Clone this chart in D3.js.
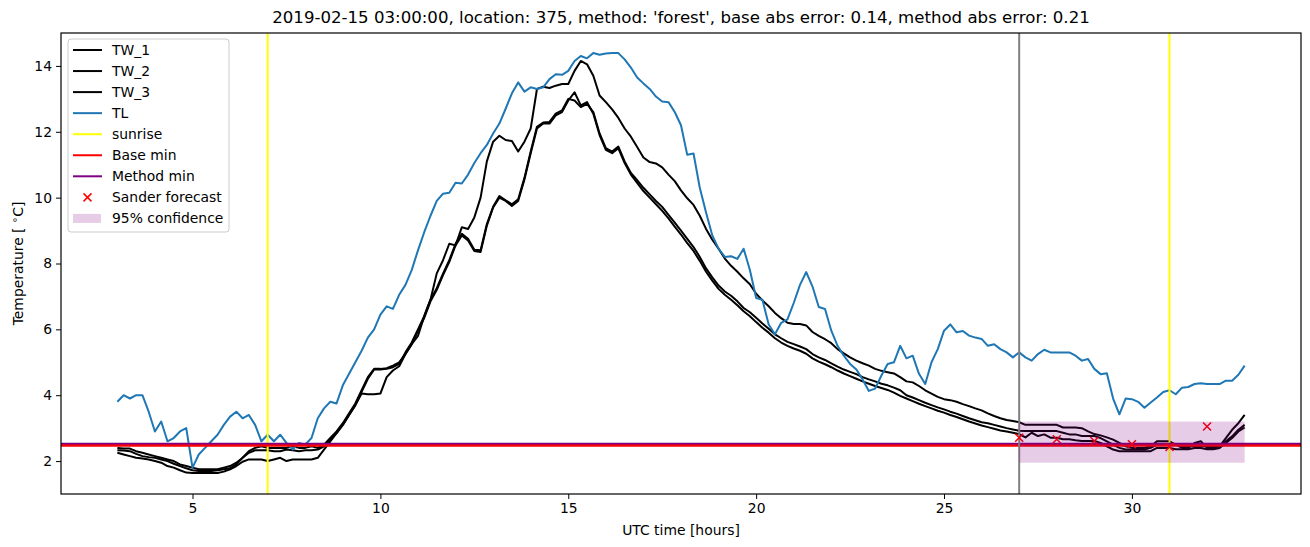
<!DOCTYPE html>
<html>
<head>
<meta charset="utf-8">
<script src="https://cdn.jsdelivr.net/npm/d3@7/dist/d3.min.js"></script>
<style>
  body { margin: 0; background: #fff; }
  svg { font-family: "DejaVu Sans", sans-serif; }
</style>
</head>
<body>
<svg id="chart" width="1310" height="547"></svg>
<script>
// ---- data (10 min samples, 3 h .. 33 h) ----
const hours = d3.range(181).map(i => 3 + i / 6);

const tw1 = [
  2.4, 2.38, 2.38, 2.3, 2.25, 2.2,
  2.15, 2.1, 2.05, 2.0, 1.9, 1.85,
  1.8, 1.75, 1.75, 1.75, 1.75, 1.8,
  1.85, 1.95, 2.1, 2.3, 2.4, 2.45,
  2.4, 2.4, 2.4, 2.4, 2.45, 2.4,
  2.4, 2.45, 2.4, 2.5, 2.7, 2.9,
  3.15, 3.45, 3.75, 4.15, 4.55, 4.8,
  4.8, 4.82, 4.9, 5.0, 5.25, 5.55,
  5.8, 6.4, 6.9, 7.7, 8.1, 8.6,
  8.55, 9.1, 9.05, 9.4, 10.0, 11.1,
  11.7, 11.88, 11.75, 11.72, 11.4, 11.7,
  12.1, 13.3, 13.37, 13.33, 13.4, 13.45,
  13.45, 13.85, 14.15, 14.05, 13.7, 13.1,
  12.9, 12.68, 12.42, 12.1, 11.85, 11.54,
  11.22, 11.08, 11.04, 10.92, 10.7, 10.5,
  10.22, 9.98, 9.78, 9.45, 9.05, 8.72,
  8.45, 8.15, 7.93, 7.75, 7.55, 7.37,
  7.08, 6.88, 6.7, 6.5, 6.34, 6.2,
  6.16, 6.16, 6.12, 5.92, 5.8, 5.7,
  5.58, 5.4, 5.27, 5.15, 5.05, 4.97,
  4.9, 4.8, 4.74, 4.7, 4.66, 4.55,
  4.42, 4.39, 4.28, 4.15, 4.05, 3.95,
  3.88, 3.85, 3.8, 3.73, 3.67, 3.6,
  3.54, 3.45, 3.37, 3.3, 3.25, 3.22,
  3.18, 3.1, 3.1, 3.1, 3.1, 3.1,
  3.1, 3.02, 3.02, 3.02, 3.0, 2.9,
  2.82, 2.78, 2.72, 2.65, 2.55, 2.45,
  2.4, 2.4, 2.4, 2.45, 2.6, 2.6,
  2.6, 2.5, 2.4, 2.4, 2.55, 2.6,
  2.4, 2.4, 2.45, 2.7, 2.95, 3.15,
  3.4
];

const tw2 = [
  2.33, 2.32, 2.3, 2.22, 2.15, 2.12,
  2.1, 2.05, 2.0, 1.92, 1.85, 1.78,
  1.72, 1.7, 1.7, 1.7, 1.72, 1.75,
  1.78, 1.9, 2.1, 2.25, 2.33, 2.33,
  2.33, 2.3, 2.3, 2.35, 2.33, 2.3,
  2.33, 2.33, 2.35, 2.45, 2.65, 2.85,
  3.1, 3.4, 3.7, 4.1, 4.5, 4.78,
  4.78, 4.8, 4.85, 4.95, 5.3, 5.6,
  6.0, 6.4, 6.9, 7.25, 7.69, 8.1,
  8.6, 8.9, 8.75, 8.42, 8.4, 9.2,
  9.72, 10.05, 9.92, 9.8, 9.95, 10.6,
  11.4, 12.15, 12.28, 12.3, 12.55, 12.65,
  13.0, 12.95, 12.75, 12.85, 12.6, 11.95,
  11.5, 11.4, 11.55, 11.1, 10.75, 10.53,
  10.3, 10.1, 9.9, 9.72, 9.48, 9.24,
  9.0, 8.75, 8.5, 8.2, 7.85, 7.58,
  7.33, 7.15, 7.02, 6.85, 6.65, 6.52,
  6.35, 6.18, 6.02, 5.85, 5.73, 5.62,
  5.55, 5.48, 5.4, 5.25, 5.15, 5.07,
  4.97, 4.87, 4.78, 4.71, 4.64, 4.55,
  4.48, 4.42, 4.35, 4.3, 4.23, 4.15,
  4.0, 3.93, 3.85, 3.77, 3.7, 3.63,
  3.57, 3.5, 3.44, 3.37, 3.3, 3.24,
  3.18, 3.15, 3.1, 3.05, 3.0, 2.96,
  2.92, 2.91, 2.91, 2.91, 2.91, 2.91,
  2.91, 2.86, 2.81, 2.81, 2.76, 2.76,
  2.76, 2.7, 2.6, 2.5, 2.4, 2.35,
  2.35, 2.35, 2.35, 2.4, 2.5, 2.5,
  2.5, 2.5, 2.45, 2.45, 2.45, 2.45,
  2.45, 2.45, 2.45, 2.6, 2.75, 2.95,
  3.1
];

const tw3 = [
  2.25, 2.2, 2.15, 2.1, 2.08, 2.05,
  2.0, 1.95, 1.85, 1.8, 1.72, 1.65,
  1.64, 1.64, 1.64, 1.64, 1.64, 1.68,
  1.75, 1.85, 1.98, 2.05, 2.05, 2.05,
  2.0, 2.05, 2.1, 2.0, 2.05, 2.05,
  2.05, 2.05, 2.1, 2.35, 2.6, 2.85,
  3.1, 3.4, 3.7, 4.05, 4.03, 4.03,
  4.05, 4.55, 4.75, 4.88, 5.25, 5.55,
  5.95, 6.35, 6.85, 7.2, 7.65, 8.05,
  8.55, 8.85, 8.7, 8.38, 8.35, 9.15,
  9.7, 10.0, 9.9, 9.75, 9.9, 10.55,
  11.35, 12.1, 12.25, 12.25, 12.5, 12.6,
  12.95, 13.2, 12.8, 12.9, 12.55, 11.9,
  11.45, 11.35, 11.5, 11.05, 10.7, 10.45,
  10.2, 10.0, 9.8, 9.6, 9.37, 9.12,
  8.88, 8.62, 8.38, 8.08, 7.75, 7.48,
  7.23, 7.05, 6.9, 6.73, 6.55, 6.4,
  6.22, 6.05, 5.9, 5.73, 5.6, 5.5,
  5.42, 5.35, 5.26, 5.12, 5.02, 4.94,
  4.85, 4.75, 4.66, 4.58, 4.5, 4.42,
  4.35, 4.28, 4.22, 4.16, 4.08, 3.98,
  3.9, 3.82, 3.74, 3.67, 3.6, 3.53,
  3.47, 3.4, 3.34, 3.27, 3.2, 3.14,
  3.08, 3.03, 2.98, 2.93, 2.9, 2.86,
  2.82, 2.72, 2.86, 2.76, 2.81, 2.71,
  2.71, 2.66, 2.66, 2.63, 2.61, 2.61,
  2.61, 2.55, 2.45, 2.35, 2.3, 2.3,
  2.3, 2.3, 2.3, 2.3, 2.4, 2.4,
  2.4, 2.36, 2.36, 2.36, 2.4, 2.4,
  2.36, 2.36, 2.4, 2.55, 2.7, 2.9,
  3.02
];

const tl = [
  3.8, 4.0, 3.9, 4.0, 4.0, 3.5,
  2.9, 3.2, 2.6, 2.7, 2.9, 3.0,
  1.8, 2.2, 2.4, 2.6, 2.8, 3.1,
  3.35, 3.5, 3.3, 3.4, 3.1, 2.6,
  2.8, 2.6, 2.8, 2.55, 2.35, 2.55,
  2.5, 2.7, 3.3, 3.6, 3.8, 3.75,
  4.3, 4.65, 5.0, 5.35, 5.75, 6.0,
  6.45, 6.7, 6.62, 7.05, 7.35, 7.8,
  8.4, 8.95, 9.45, 9.9, 10.12, 10.15,
  10.45, 10.43, 10.7, 11.05, 11.35, 11.6,
  11.95, 12.25, 12.7, 13.17, 13.5, 13.22,
  13.35, 13.3, 13.35, 13.6, 13.75, 13.73,
  13.85, 14.15, 14.3, 14.23, 14.39, 14.34,
  14.38, 14.39, 14.39, 14.2, 13.95, 13.65,
  13.47, 13.3, 13.07, 12.92, 12.9, 12.6,
  12.2, 11.3, 11.34, 10.3, 9.55, 8.85,
  8.45, 8.2, 8.22, 8.14, 8.45, 7.8,
  6.95, 6.9, 6.15, 5.85, 6.2, 6.3,
  6.8, 7.35, 7.74, 7.3, 6.68, 6.62,
  5.96, 5.5, 5.2, 4.95, 4.78, 4.48,
  4.13, 4.2, 4.6, 4.95, 5.0, 5.5,
  5.12, 5.2, 4.65, 4.34, 5.0, 5.4,
  5.96, 6.15, 5.91, 5.95, 5.81, 5.75,
  5.71, 5.5, 5.55, 5.4, 5.3, 5.15,
  5.3, 5.15, 5.05, 5.25, 5.38, 5.3,
  5.3, 5.3, 5.3, 5.2, 5.05, 5.1,
  4.8, 4.64, 4.67, 3.9, 3.42, 3.9,
  3.88, 3.8, 3.62, 3.78, 3.93, 4.1,
  4.15, 4.03, 4.23, 4.25, 4.34, 4.36,
  4.34, 4.34, 4.34, 4.44, 4.44, 4.62,
  4.9
];

const sunrise = [7.0, 31.0];
const forecastStart = 27;
const baseMin = 2.47;
const methodMin = 2.525;
const sanderHours = [27, 28, 29, 30, 31, 32];
const sanderValues = [2.71, 2.66, 2.61, 2.51, 2.43, 3.05];
const confHours = [27, 33];
const confLow = 1.95;
const confHigh = 3.2;

const xTicks = [5, 10, 15, 20, 25, 30];
const yTicks = [2, 4, 6, 8, 10, 12, 14];

const title = "2019-02-15 03:00:00, location: 375, method: 'forest', base abs error: 0.14, method abs error: 0.21";

// ---- layout ----
const margin = { left: 61, top: 33, right: 9, bottom: 53 };
const W = 1310, H = 547;
const width = W - margin.left - margin.right;
const height = H - margin.top - margin.bottom;
const fs = "13.9px";

const svg = d3.select("#chart");
const g = svg.append("g").attr("transform", "translate(" + margin.left + "," + margin.top + ")");

const x = d3.scaleLinear().domain([1.5, 34.5]).range([0, width]);
const y = d3.scaleLinear().domain([1, 15]).range([height, 0]);

g.append("defs").append("clipPath").attr("id", "clip")
  .append("rect").attr("width", width).attr("height", height);

const plot = g.append("g").attr("clip-path", "url(#clip)");

const line = d3.line().x(d => x(d[0])).y(d => y(d[1]));
const blue = "#1f77b4";

[tw1, tw2, tw3].forEach(s => {
  plot.append("path")
    .datum(hours.map((h, i) => [h, s[i]]))
    .attr("d", line)
    .attr("fill", "none")
    .attr("stroke", "black")
    .attr("stroke-width", 2)
    .attr("stroke-linejoin", "round");
});

plot.append("path")
  .datum(hours.map((h, i) => [h, tl[i]]))
  .attr("d", line)
  .attr("fill", "none")
  .attr("stroke", blue)
  .attr("stroke-width", 2)
  .attr("stroke-linejoin", "round");

plot.selectAll(".sunrise")
  .data(sunrise)
  .enter().append("line")
  .attr("x1", d => x(d)).attr("x2", d => x(d))
  .attr("y1", 0).attr("y2", height)
  .attr("stroke", "yellow").attr("stroke-width", 2);

plot.append("line")
  .attr("x1", 0).attr("x2", width)
  .attr("y1", y(methodMin)).attr("y2", y(methodMin))
  .attr("stroke", "purple").attr("stroke-width", 2.2);

plot.append("line")
  .attr("x1", 0).attr("x2", width)
  .attr("y1", y(baseMin)).attr("y2", y(baseMin))
  .attr("stroke", "red").attr("stroke-width", 2.2);

plot.append("line")
  .attr("x1", x(forecastStart)).attr("x2", x(forecastStart))
  .attr("y1", 0).attr("y2", height)
  .attr("stroke", "gray").attr("stroke-width", 2);

const mk = 4;
plot.selectAll(".sander")
  .data(sanderHours.map((h, i) => [h, sanderValues[i]]))
  .enter().append("path")
  .attr("d", d => {
    const cx = x(d[0]), cy = y(d[1]);
    return "M" + (cx - mk) + "," + (cy - mk) + "L" + (cx + mk) + "," + (cy + mk) +
      "M" + (cx - mk) + "," + (cy + mk) + "L" + (cx + mk) + "," + (cy - mk);
  })
  .attr("stroke", "red").attr("stroke-width", 1.5).attr("fill", "none");

plot.append("rect")
  .attr("x", x(confHours[0]))
  .attr("width", x(confHours[1]) - x(confHours[0]))
  .attr("y", y(confHigh))
  .attr("height", y(confLow) - y(confHigh))
  .attr("fill", "purple").attr("fill-opacity", 0.2);

// ---- axes ----
const xAxis = g.append("g").attr("transform", "translate(0," + height + ")")
  .call(d3.axisBottom(x).tickValues(xTicks).tickSize(5).tickPadding(4).tickSizeOuter(0));
const yAxis = g.append("g")
  .call(d3.axisLeft(y).tickValues(yTicks).tickSize(5).tickPadding(4).tickSizeOuter(0));
[xAxis, yAxis].forEach(a => {
  a.select(".domain").remove();
  a.selectAll("text").attr("font-size", fs).attr("font-family", "DejaVu Sans").attr("fill", "#000");
  a.selectAll("line").attr("stroke", "#000").attr("stroke-width", 1);
});

g.append("rect")
  .attr("width", width).attr("height", height)
  .attr("fill", "none").attr("stroke", "#000").attr("stroke-width", 1.2);

svg.append("text")
  .attr("x", margin.left + width / 2).attr("y", 23)
  .attr("text-anchor", "middle")
  .attr("font-size", "16.6px")
  .text(title);

svg.append("text")
  .attr("x", margin.left + width / 2).attr("y", 535)
  .attr("text-anchor", "middle")
  .attr("font-size", fs)
  .text("UTC time [hours]");

const yl = svg.append("text")
  .attr("transform", "translate(23," + (margin.top + height / 2) + ") rotate(-90)")
  .attr("text-anchor", "middle")
  .attr("font-size", fs);
yl.append("tspan").text("Temperature [ ");
yl.append("tspan").attr("font-size", "10px").attr("dy", -5).text("∘");
yl.append("tspan").attr("dy", 5).text("C]");

// ---- legend ----
const legendItems = [
  { label: "TW_1", type: "line", color: "black" },
  { label: "TW_2", type: "line", color: "black" },
  { label: "TW_3", type: "line", color: "black" },
  { label: "TL", type: "line", color: blue },
  { label: "sunrise", type: "line", color: "yellow" },
  { label: "Base min", type: "line", color: "red" },
  { label: "Method min", type: "line", color: "purple" },
  { label: "Sander forecast", type: "x", color: "red" },
  { label: "95% confidence", type: "patch", color: "purple" }
];

const lg = svg.append("g").attr("transform", "translate(68,39)");
lg.append("rect")
  .attr("width", 161).attr("height", 193)
  .attr("rx", 3).attr("ry", 3)
  .attr("fill", "white").attr("fill-opacity", 0.8)
  .attr("stroke", "#cccccc").attr("stroke-width", 1);

const rows = lg.selectAll(".row").data(legendItems).enter().append("g")
  .attr("transform", (d, i) => "translate(0," + (11 + i * 21.05) + ")");

rows.filter(d => d.type === "line").append("line")
  .attr("x1", 5).attr("x2", 34).attr("y1", 0).attr("y2", 0)
  .attr("stroke", d => d.color).attr("stroke-width", 2);
rows.filter(d => d.type === "x").append("path")
  .attr("d", "M15.5,-4L23.5,4M15.5,4L23.5,-4")
  .attr("stroke", d => d.color).attr("stroke-width", 1.5);
rows.filter(d => d.type === "patch").append("rect")
  .attr("x", 5).attr("y", -4.5).attr("width", 28).attr("height", 9)
  .attr("fill", d => d.color).attr("fill-opacity", 0.2);
rows.append("text")
  .attr("x", 44).attr("y", 5)
  .attr("font-size", fs)
  .text(d => d.label);
</script>
</body>
</html>
